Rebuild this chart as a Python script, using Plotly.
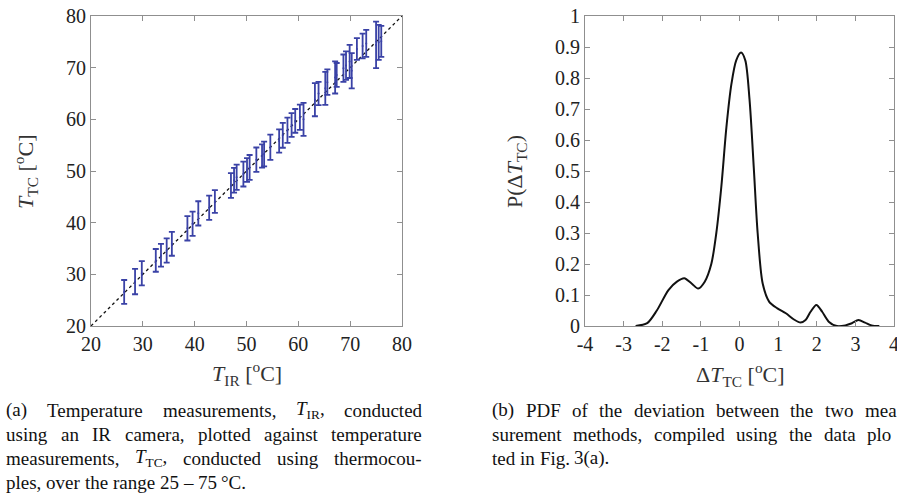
import re
import plotly.graph_objects as go

# ---- Panel (a): T_TC vs T_IR with error bars ----
t_ir = [26.4, 28.5, 29.8, 32.5, 33.5, 34.6, 35.6, 38.6, 39.6, 40.7, 42.8, 43.9,
        47.0, 47.6, 48.1, 49.4, 50.1, 50.6, 51.9, 53.0, 53.4, 54.6, 56.3, 57.0,
        57.9, 58.7, 59.4, 60.3, 61.0, 63.2, 63.9, 65.2, 65.6, 67.1, 67.4, 68.7,
        69.2, 69.9, 70.3, 71.3, 72.4, 73.1, 75.0, 75.5, 76.0]
t_tc = [26.6, 28.6, 30.2, 32.7, 33.7, 34.6, 35.9, 38.9, 39.8, 41.8, 42.9, 44.1,
        47.2, 48.2, 48.8, 49.4, 50.2, 50.7, 52.2, 52.9, 53.3, 54.6, 55.8, 56.9,
        57.9, 58.9, 59.7, 60.4, 60.0, 63.8, 65.0, 66.0, 67.2, 68.1, 68.6, 69.9,
        70.4, 71.2, 69.4, 73.6, 74.2, 74.7, 74.4, 74.9, 75.1]
t_err = [2.3, 2.45, 2.35, 2.2, 2.2, 2.35, 2.3, 2.35, 2.35, 2.35, 2.35, 2.2,
         2.4, 2.4, 2.45, 2.4, 2.3, 2.4, 2.35, 2.25, 2.4, 2.45, 2.25, 2.4,
         2.45, 2.3, 2.3, 2.45, 3.2, 3.2, 2.25, 3.2, 2.45, 3.1, 2.3, 2.65,
         2.75, 3.2, 3.4, 2.1, 2.4, 2.6, 4.5, 3.4, 3.0]
ref_line = [20, 80]

# ---- Panel (b): PDF of deviation ----
pdf_dt = [-2.69, -2.39, -2.14, -1.84, -1.62, -1.43, -1.24, -1.07, -0.90, -0.73,
          -0.60, -0.47, -0.34, -0.21, -0.085, 0.04, 0.15, 0.26, 0.37, 0.47,
          0.60, 0.77, 0.98, 1.20, 1.41, 1.58, 1.71, 1.84, 1.99, 2.14, 2.31,
          2.52, 2.74, 2.91, 3.08, 3.25, 3.42, 3.62]
pdf_p = [0.0, 0.009, 0.05, 0.116, 0.143, 0.154, 0.137, 0.121, 0.143, 0.20,
         0.30, 0.45, 0.64, 0.78, 0.857, 0.882, 0.857, 0.73, 0.51, 0.30,
         0.137, 0.078, 0.057, 0.041, 0.021, 0.011, 0.019, 0.046, 0.068, 0.046, 0.014,
         0.0, 0.002, 0.009, 0.019, 0.011, 0.002, 0.0]

ticks_a = [20, 30, 40, 50, 60, 70, 80]
ticks_bx = [-4, -3, -2, -1, 0, 1, 2, 3, 4]
ticks_by = [0, 0.1, 0.2, 0.3, 0.4, 0.5, 0.6, 0.7, 0.8, 0.9, 1]

# captions: words per line, (justified?) ; "|" splits visible part from cut-off part
caption_a = [
    (["(a)", "Temperature", "measurements,", "<i>T</i><sub>IR</sub>,", "conducted"], True),
    (["using", "an", "IR", "camera,", "plotted", "against", "temperature"], True),
    (["measurements,", "<i>T</i><sub>TC</sub>,", "conducted", "using", "thermocou-"], True),
    (["ples,", "over", "the", "range", "25", "\u2013", "75", "\u00b0C."], False),
]
caption_b = [
    (["(b)", "PDF", "of", "the", "deviation", "between", "the", "two", "mea|-"], True),
    (["surement", "methods,", "compiled", "using", "the", "data", "plo|t-"], True),
    (["ted", "in", "Fig.", "3(a)."], False),
]

W, H = 897, 497
FONT = "Liberation Serif"
AXC = "#8f8f8f"
BLUE = "#3a42a6"
CAP_SIZE = 19

# Times-compatible advance widths (1/1000 em) used to justify caption lines
TW = {' ': 250, '(': 333, ')': 333, ',': 250, '.': 250, '-': 333, '\u2013': 500,
      '\u00b0': 400, '|': 0}
TW.update({d: 500 for d in "0123456789"})
TW.update(dict(zip("abcdefghijklmnopqrstuvwxyz",
                   [444, 500, 444, 500, 444, 333, 500, 500, 278, 278, 500, 278, 778,
                    500, 500, 500, 500, 333, 389, 278, 500, 500, 722, 500, 500, 444])))
TW.update(dict(zip("ABCDEFGHIJKLMNOPQRSTUVWXYZ",
                   [722, 667, 667, 722, 611, 556, 722, 722, 333, 389, 722, 611, 889,
                    722, 722, 556, 722, 667, 556, 611, 722, 722, 944, 722, 722, 611])))


def text_width(html, size):
    total, scale, italic = 0.0, 1.0, False
    for tok in re.split(r'(<[^>]+>)', html):
        if tok.startswith('<'):
            closing = tok.startswith('</')
            tag = tok.strip('<>/').lower()
            if tag in ('sub', 'sup'):
                scale = 1.0 if closing else 0.7
            elif tag == 'i':
                italic = not closing
            continue
        for ch in tok:
            wv = TW.get(ch, 500)
            if italic and ch == 'T':
                wv = 556
            total += wv * scale
    return total / 1000.0 * size


fig = go.Figure()

fig.add_trace(go.Scatter(
    x=ref_line, y=ref_line, mode="lines",
    line=dict(color="#111111", width=1.3, dash="dot"),
    xaxis="x", yaxis="y", showlegend=False, hoverinfo="skip"))

fig.add_trace(go.Scatter(
    x=t_ir, y=t_tc, mode="markers",
    marker=dict(size=2, color=BLUE),
    error_y=dict(type="data", array=t_err, visible=True, color=BLUE,
                 thickness=1.8, width=3),
    xaxis="x", yaxis="y", showlegend=False))

fig.add_trace(go.Scatter(
    x=pdf_dt, y=pdf_p, mode="lines", line_shape="spline",
    line=dict(color="#111111", width=2, smoothing=0.8),
    xaxis="x2", yaxis="y2", showlegend=False))

ax_common = dict(showline=True, linecolor=AXC, linewidth=1, mirror="ticks",
                 ticks="inside", ticklen=5, tickcolor=AXC, showgrid=False,
                 zeroline=False, automargin=False, ticklabeloverflow="allow",
                 tickfont=dict(family=FONT, size=20, color="#222222"))

y0 = (H - 326) / H
y1 = (H - 16) / H

fig.update_layout(
    width=W, height=H,
    margin=dict(l=0, r=0, t=0, b=0, pad=0),
    paper_bgcolor="white", plot_bgcolor="white",
    xaxis=dict(domain=[91 / W, 402 / W], range=[20, 80], tickvals=ticks_a,
               anchor="y", **ax_common),
    yaxis=dict(domain=[y0, y1], range=[20, 80], tickvals=ticks_a,
               anchor="x", **ax_common),
    xaxis2=dict(domain=[585 / W, 894 / W], range=[-4, 4], tickvals=ticks_bx,
                ticktext=[str(v) for v in ticks_bx], anchor="y2", **ax_common),
    yaxis2=dict(domain=[y0, y1], range=[0, 1], tickvals=ticks_by,
                ticktext=[("%g" % v) for v in ticks_by], anchor="x2", **ax_common),
)

ann = []
TITLE_FONT = dict(family=FONT, size=22, color="#333333")
ann.append(dict(text="<i>T</i><sub>TC</sub> [<sup>o</sup>C]", x=25 / W, y=(H - 172) / H,
                xref="paper", yref="paper", showarrow=False, textangle=-90,
                font=TITLE_FONT, xanchor="center", yanchor="middle"))
ann.append(dict(text="<i>T</i><sub>IR</sub> [<sup>o</sup>C]", x=247 / W, y=(H - 373) / H,
                xref="paper", yref="paper", showarrow=False,
                font=TITLE_FONT, xanchor="center", yanchor="middle"))
ann.append(dict(text="\u0394<i>T</i><sub>TC</sub> [<sup>o</sup>C]", x=740 / W, y=(H - 374) / H,
                xref="paper", yref="paper", showarrow=False,
                font=TITLE_FONT, xanchor="center", yanchor="middle"))
ann.append(dict(text="P(\u0394<i>T</i><sub>TC</sub>)", x=516 / W, y=(H - 172) / H,
                xref="paper", yref="paper", showarrow=False, textangle=-90,
                font=TITLE_FONT, xanchor="center", yanchor="middle"))

line_y = [410, 434, 458, 482]


def add_caption(lines, x_left, col_width):
    for i, (words, justify) in enumerate(lines):
        widths = [text_width(w, CAP_SIZE) for w in words]
        if justify and len(words) > 1:
            gap = (col_width - sum(widths)) / (len(words) - 1)
        else:
            gap = 0.25 * CAP_SIZE
        x = x_left
        for w, wd in zip(words, widths):
            visible = w.split('|')[0]
            ann.append(dict(text=visible, x=x / W, y=(H - line_y[i]) / H,
                            xref="paper", yref="paper", showarrow=False,
                            xanchor="left", yanchor="middle",
                            font=dict(family=FONT, size=CAP_SIZE, color="#111111")))
            x += wd + gap


add_caption(caption_a, 4, 416)
add_caption(caption_b, 490, 411)

fig.update_layout(annotations=ann)

fig.write_html("out.html",
               config={"displayModeBar": False},
               post_script="document.body.style.margin='0px';"
                           "document.body.style.overflow='hidden';")
